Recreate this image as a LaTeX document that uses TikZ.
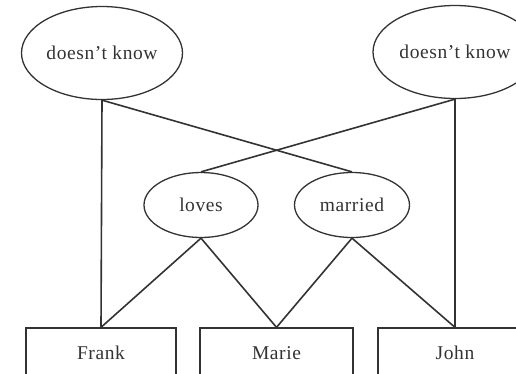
\documentclass[tikz,border=0pt]{standalone}
\usepackage{fontspec}
\setmainfont{Liberation Serif}[LetterSpace=3]
\usetikzlibrary{shapes.geometric}
\definecolor{ink}{HTML}{333333}
\tikzset{
  rel/.style={ellipse, draw=ink, line width=1.3pt, inner sep=0pt, text=ink,
              font=\fontsize{19.5}{22}\selectfont},
  entity/.style={rectangle, draw=ink, line width=1.3pt, inner sep=0pt, text=ink,
                 minimum height=50pt, font=\fontsize{19.5}{22}\selectfont},
  link/.style={draw=ink, line width=1.6pt}
}
\begin{document}
\begin{tikzpicture}[x=1pt,y=-1pt]
  \useasboundingbox (0,0) rectangle (516,373);
  \clip (0,0) rectangle (516,373);
  % relationship ellipses
  \node[rel, minimum width=161pt, minimum height=93pt] (dkl) at (102,53) {doesn't know};
  \node[rel, minimum width=164pt, minimum height=93pt] (dkr) at (455,52) {doesn't know};
  \node[rel, minimum width=114pt, minimum height=65pt] (loves) at (201,205) {loves};
  \node[rel, minimum width=115pt, minimum height=65pt] (married) at (352,205) {married};
  % entity boxes (running past the lower edge)
  \node[entity, minimum width=150pt] (frank) at (101,353) {Frank};
  \node[entity, minimum width=153pt] (marie) at (276.5,353) {Marie};
  \node[entity, minimum width=154pt] (john) at (455,353) {John};
  % connectors
  \draw[link] (dkl.south) -- (frank.north);
  \draw[link] (dkl.south) -- (married.north);
  \draw[link] (dkr.south) -- (loves.north);
  \draw[link] (dkr.south) -- (john.north);
  \draw[link] (loves.south) -- (frank.north);
  \draw[link] (loves.south) -- (marie.north);
  \draw[link] (married.south) -- (marie.north);
  \draw[link] (married.south) -- (john.north);
\end{tikzpicture}
\end{document}
